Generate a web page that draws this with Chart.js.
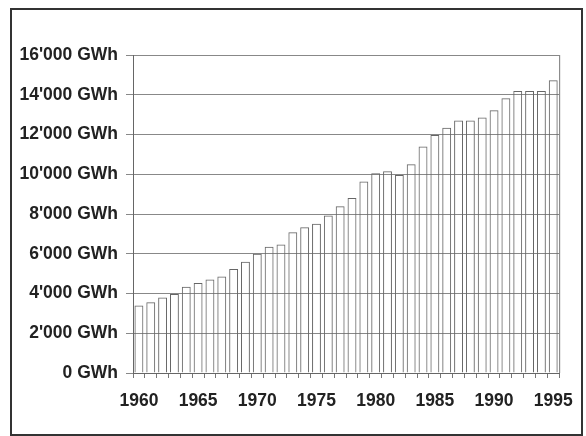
<!DOCTYPE html>
<html>
<head>
<meta charset="utf-8">
<script src="https://cdn.jsdelivr.net/npm/chart.js@4/dist/chart.umd.min.js"></script>
<style>
    body { margin: 0; background: #fff; }
    #wrap { position: relative; width: 586px; height: 436px; }
    #frame {
        position: absolute; left: 10px; top: 8px; width: 569px; height: 424px;
        border: 2px solid #333;
    }
    canvas { position: absolute; left: 0; top: 0; }
</style>
</head>
<body>
<div id="wrap">
    <div id="frame"></div>
    <canvas id="chart" width="586" height="436"></canvas>
</div>
<script>
// Years shown on the x axis
const years = [
    1960, 1961, 1962, 1963, 1964, 1965, 1966, 1967, 1968, 1969,
    1970, 1971, 1972, 1973, 1974, 1975, 1976, 1977, 1978, 1979,
    1980, 1981, 1982, 1983, 1984, 1985, 1986, 1987, 1988, 1989,
    1990, 1991, 1992, 1993, 1994, 1995
];

// Consumption in GWh
const consumption = [
    3390, 3560, 3800, 3980, 4340, 4530, 4710, 4860, 5230, 5600,
    6000, 6350, 6460, 7080, 7330, 7510, 7930, 8390, 8800, 9630,
    10050, 10150, 9960, 10500, 11390, 11980, 12340, 12710, 12710, 12860,
    13220, 13820, 14190, 14190, 14190, 14730
];

const yMax = 16000;
const yStep = 2000;

// 16000 -> "16'000 GWh"
function formatGWh(v) {
    return String(v).replace(/\B(?=(\d{3})+(?!\d))/g, "'") + ' GWh';
}

// Right edge of the plot area
const plotFrame = {
    id: 'plotFrame',
    afterDraw(chart) {
        const a = chart.chartArea;
        const ctx = chart.ctx;
        ctx.save();
        ctx.strokeStyle = '#777';
        ctx.lineWidth = 1;
        ctx.beginPath();
        ctx.moveTo(a.right + 0.5, a.top);
        ctx.lineTo(a.right + 0.5, a.bottom);
        ctx.stroke();
        ctx.restore();
    }
};

const font = { family: '"Liberation Sans", Arial, sans-serif', size: 17.5, weight: 'bold' };

new Chart(document.getElementById('chart'), {
    type: 'bar',
    data: {
        labels: years,
        datasets: [{
            data: consumption,
            backgroundColor: 'rgba(255,255,255,0)',
            borderColor: '#666',
            borderWidth: 1,
            barPercentage: 0.75,
            categoryPercentage: 1
        }]
    },
    options: {
        responsive: false,
        animation: false,
        layout: { padding: { left: 0, right: 21, top: 55, bottom: 0 } },
        plugins: {
            legend: { display: false },
            tooltip: { enabled: false }
        },
        scales: {
            x: {
                afterFit: (scale) => { scale.height = 63; },
                grid: {
                    drawOnChartArea: false,
                    drawTicks: true,
                    tickLength: 5,
                    color: '#777'
                },
                border: { color: '#666', width: 1 },
                ticks: {
                    autoSkip: false,
                    maxRotation: 0,
                    padding: 13,
                    color: '#222',
                    font: font,
                    callback: (val, i) => years[i] % 5 === 0 ? String(years[i]) : ''
                }
            },
            y: {
                min: 0,
                max: yMax,
                afterFit: (scale) => { scale.width = 133; },
                grid: {
                    color: '#888',
                    tickLength: 7,
                    lineWidth: 1
                },
                border: { color: '#666', width: 1 },
                ticks: {
                    stepSize: yStep,
                    padding: 8,
                    color: '#222',
                    font: font,
                    callback: (v) => formatGWh(v)
                }
            }
        }
    },
    plugins: [plotFrame]
});
</script>
</body>
</html>
